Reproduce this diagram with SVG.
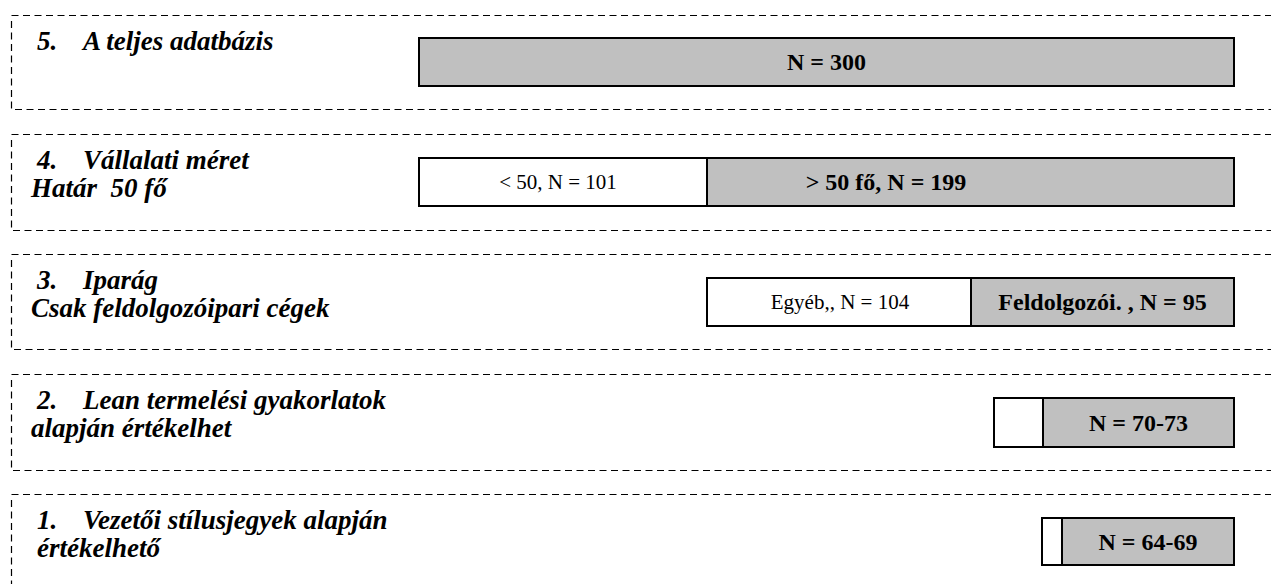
<svg xmlns="http://www.w3.org/2000/svg" width="1271" height="584" viewBox="0 0 1271 584">
<style>
.dash{fill:none;stroke:#000;stroke-width:1.2;stroke-dasharray:7 4.5}
.bg{fill:#c0c0c0;stroke:#000;stroke-width:2}
.wh{fill:#fff;stroke:#000;stroke-width:2}
.lbl{font-family:"Liberation Serif","Times New Roman",serif;font-size:27px;font-weight:bold;font-style:italic;fill:#000}
.nb{font-family:"Liberation Serif","Times New Roman",serif;font-size:24px;font-weight:bold;fill:#000;text-anchor:middle}
.nr{font-family:"Liberation Serif","Times New Roman",serif;font-size:21px;fill:#000;text-anchor:middle}
</style>
<rect width="1271" height="584" fill="#fff"/>
<g id="frames">
<path class="dash" d="M11.5 15.5H1271M11.5 21V109.5H1271"/>
<path class="dash" d="M11.5 134.5H1271M11.5 140V230.5H1271"/>
<path class="dash" d="M11.5 254.5H1271M11.5 260V349.5H1271"/>
<path class="dash" d="M11.5 374.5H1271M11.5 380V470.5H1271"/>
<path class="dash" d="M11.5 494.5H1271M11.5 500V584"/>
</g>
<g id="row5">
<text class="lbl" y="50"><tspan x="37">5.</tspan><tspan x="83">A teljes adatbázis</tspan></text>
<rect class="bg" x="419" y="38" width="815" height="48"/>
<text class="nb" x="826.5" y="70">N = 300</text>
</g>
<g id="row4">
<text class="lbl" y="169"><tspan x="37">4.</tspan><tspan x="83">Vállalati méret</tspan></text>
<text class="lbl" x="31" y="197" xml:space="preserve">Határ  50 fő</text>
<rect class="wh" x="419" y="158" width="288" height="48"/>
<rect class="bg" x="707" y="158" width="527" height="48"/>
<text class="nr" x="558" y="189">&lt; 50, N = 101</text>
<text class="nb" x="886" y="190">&gt; 50 fő, N = 199</text>
</g>
<g id="row3">
<text class="lbl" y="289"><tspan x="37">3.</tspan><tspan x="83">Iparág</tspan></text>
<text class="lbl" x="31" y="317">Csak feldolgozóipari cégek</text>
<rect class="wh" x="707" y="278" width="264" height="48"/>
<rect class="bg" x="971" y="278" width="263" height="48"/>
<text class="nr" x="840" y="309">Egyéb,, N = 104</text>
<text class="nb" x="1102.5" y="310">Feldolgozói. , N = 95</text>
</g>
<g id="row2">
<text class="lbl" y="409"><tspan x="37">2.</tspan><tspan x="83">Lean termelési gyakorlatok</tspan></text>
<text class="lbl" x="31" y="437">alapján értékelhet</text>
<rect class="wh" x="994" y="398" width="49" height="49"/>
<rect class="bg" x="1043" y="398" width="191" height="49"/>
<text class="nb" x="1138.5" y="431">N = 70-73</text>
</g>
<g id="row1">
<text class="lbl" y="529"><tspan x="37">1.</tspan><tspan x="83">Vezetői stílusjegyek alapján</tspan></text>
<text class="lbl" x="37" y="557">értékelhető</text>
<rect class="wh" x="1042" y="518" width="20" height="47"/>
<rect class="bg" x="1062" y="518" width="172" height="47"/>
<text class="nb" x="1148" y="550">N = 64-69</text>
</g>
</svg>
